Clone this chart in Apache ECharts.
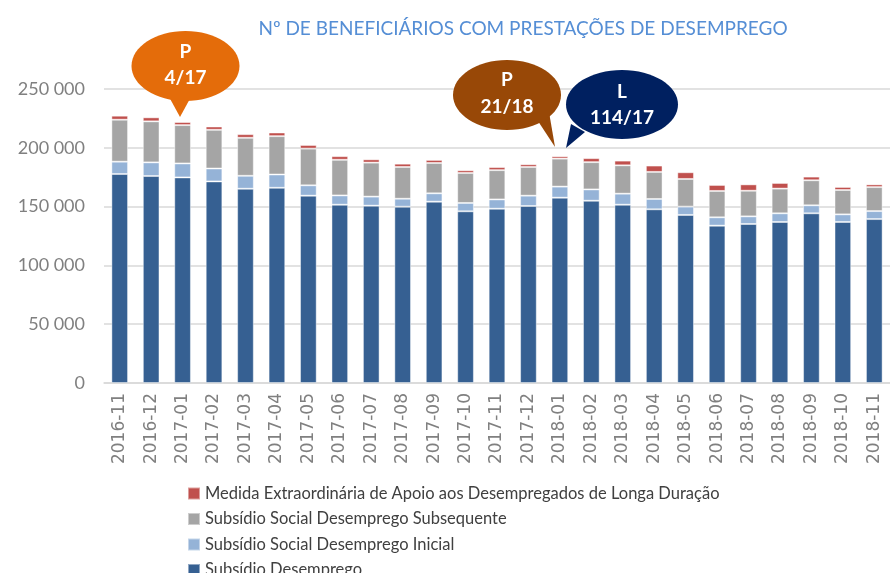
<!DOCTYPE html>
<html><head><meta charset="utf-8">
<script src="https://cdn.jsdelivr.net/npm/echarts@6/dist/echarts.min.js"></script>
<style>html,body{margin:0;padding:0;background:#fff}#c{width:890px;height:573px}</style>
</head><body><div id="c"></div>
<script>
const categories = ['2016-11','2016-12','2017-01','2017-02','2017-03','2017-04','2017-05','2017-06','2017-07','2017-08','2017-09','2017-10','2017-11','2017-12','2018-01','2018-02','2018-03','2018-04','2018-05','2018-06','2018-07','2018-08','2018-09','2018-10','2018-11'];
const subsidioDesemprego = [177700,176000,174800,171400,165200,166000,159300,151600,150800,149900,154200,146000,148200,150500,157600,155000,151600,147700,142900,133800,135200,136900,144300,136900,139400];
const socialInicial = [10500,11600,11900,11000,11000,11300,8800,7900,7700,6800,7100,7100,7900,8800,9400,9600,9400,8800,7100,7100,6500,7400,6800,6500,6800];
const socialSubsequente = [35700,34900,32600,32900,32300,32600,31200,30300,28900,27000,25800,25500,24900,24400,23800,23200,24100,23000,23500,22400,21800,21000,21300,20700,20400];
const medidaExtra = [3400,3400,2600,2800,3100,3100,3100,3100,2800,2800,2600,2300,2600,2300,2000,3400,4000,5400,5700,5100,5400,4800,3100,2600,2300];
const seriesNames = ['Subsídio Desemprego','Subsídio Social Desemprego Inicial','Subsídio Social Desemprego Subsequente','Medida Extraordinária de Apoio aos Desempregados de Longa Duração'];
const seriesColors = ['#366092','#95B3D7','#A5A5A5','#C0504D'];
const titleText = 'Nº DE BENEFICIÁRIOS COM PRESTAÇÕES DE DESEMPREGO';

const chart = echarts.init(document.getElementById('c'));
const values = [subsidioDesemprego, socialInicial, socialSubsequente, medidaExtra];
const series = values.map((v,i)=>({
  name: seriesNames[i], type:'bar', stack:'t', data:v, barWidth:'53%',
  itemStyle:{color:seriesColors[i], borderColor:'rgba(255,255,255,0.45)', borderWidth:1},
  emphasis:{disabled:true}
}));

function bubble(cx, cy, rx, ry, tail, color, l1, l2, y1, y2){
  return [
    {type:'polygon', shape:{points:tail}, style:{fill:color}, z:10},
    {type:'ellipse', shape:{cx:cx, cy:cy, rx:rx, ry:ry}, style:{fill:color}, z:10},
    {type:'text', x:cx, y:y1, style:{text:l1, fill:'#fff', font:'bold 19px Lato', align:'center', verticalAlign:'middle'}, z:11},
    {type:'text', x:cx, y:y2, style:{text:l2, fill:'#fff', font:'bold 19px Lato', align:'center', verticalAlign:'middle'}, z:11}
  ];
}

chart.setOption({
  animation:false,
  title:{text:titleText, left:518, top:14, textAlign:'center',
    textStyle:{color:'#558ED5', fontFamily:'Lato', fontWeight:'normal', fontSize:19}},
  legend:{orient:'vertical', left:182, top:480, height:140, itemWidth:12, itemHeight:12, itemGap:8.5,
    icon:'rect',
    data:[seriesNames[3],seriesNames[2],seriesNames[1],seriesNames[0]],
    textStyle:{fontFamily:'Lato', fontSize:16.5, color:'#404040', lineHeight:16}},
  grid:{left:104, right:-6, top:89, bottom:190, containLabel:false},
  xAxis:{type:'category', data:categories,
    axisLine:{lineStyle:{color:'#d9d9d9', width:1.5}}, axisTick:{show:false},
    axisLabel:{rotate:90, margin:10, color:'#808080', fontFamily:'DejaVu Sans', fontSize:17}},
  yAxis:{type:'value', min:0, max:250000, interval:50000,
    axisLine:{show:false}, axisTick:{show:false},
    splitLine:{lineStyle:{color:'#d9d9d9', width:1.5}},
    axisLabel:{margin:19, color:'#808080', fontFamily:'Lato', fontSize:18,
      formatter:v=>String(v).replace(/\B(?=(\d{3})+(?!\d))/g,' ')}},
  series:series,
  graphic:[].concat(
    bubble(185.5, 66, 54, 35, [[168,95],[192,95],[180,117]], '#E46C0A', 'P', '4/17', 52, 78),
    bubble(507, 95, 54, 35, [[536,118],[549,112],[555,147]], '#984807', 'P', '21/18', 80, 107),
    bubble(622, 104.5, 56, 34.5, [[571,124],[585,132],[566,148]], '#002060', 'L', '114/17', 92, 118)
  )
});
</script></body></html>
